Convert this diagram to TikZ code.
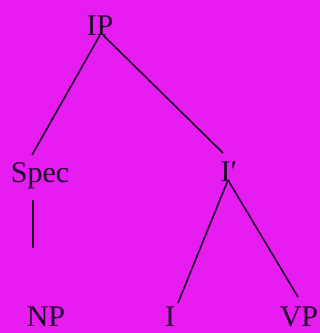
\documentclass[tikz,border=0pt]{standalone}
\usepackage{fontspec}
\setmainfont{Liberation Serif}
\usetikzlibrary{calc}
\definecolor{bgmag}{RGB}{230,28,240}
\definecolor{ink}{RGB}{30,0,40}
\begin{document}
\begin{tikzpicture}[x=1pt,y=1pt,
  lbl/.style={anchor=base,inner sep=0pt,text=ink,font=\fontsize{30}{30}\selectfont},
  edge/.style={draw=ink,line width=1.6pt}]
\fill[bgmag] (0,0) rectangle (320,333);
\useasboundingbox (0,0) rectangle (320,333);
\node[lbl] (ip) at (100,298) {IP};
\node[lbl] (spec) at (40,150) {Spec};
\node[lbl] (ibar) at (229,151) {I\char"2032};
\node[lbl] (np) at (46,6) {NP};
\node[lbl] (i) at (170,6) {I};
\node[lbl] (vp) at (299,6) {VP};
\draw[edge] (ip.base) -- ($(spec.base)+(-8,28)$);
\draw[edge] ($(ip.base)+(3,0)$) -- ($(ibar.base)+(-6,29)$);
\draw[edge] ($(spec.base)+(-7,-17)$) -- ($(np.base)+(-13,79)$);
\draw[edge] ($(ibar.base)+(-1,2)$) -- ($(i.base)+(8,24)$);
\draw[edge] ($(ibar.base)+(-1,2)$) -- ($(vp.base)+(-1,30)$);
\end{tikzpicture}
\end{document}
